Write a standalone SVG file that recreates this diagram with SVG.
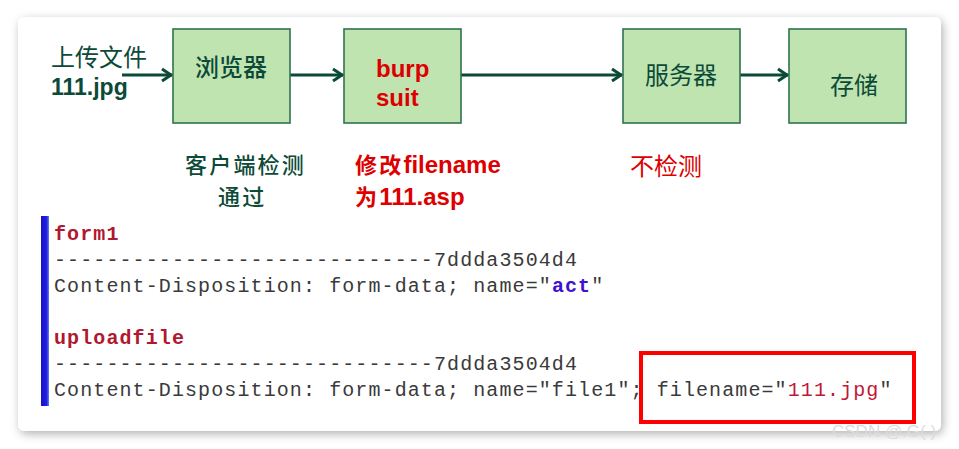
<svg xmlns="http://www.w3.org/2000/svg" width="959" height="449" viewBox="0 0 959 449">
<style>
.box{fill:#c0e4b0;stroke:#2f7352;stroke-width:1.6}
.cjk{font-family:"Noto Sans CJK SC","Noto Sans",sans-serif;font-size:24px}
.cjs{font-family:"Noto Sans CJK SC","Noto Sans",sans-serif;font-size:22px;letter-spacing:2.2px}
.g{fill:#0c4a38}
.r{fill:#dd0000}
.lat{font-family:"Liberation Sans",Arial,"Noto Sans CJK SC",sans-serif;font-weight:bold;font-size:24px}
.code{font-family:"Liberation Mono","Courier New",monospace;font-size:20px;letter-spacing:1.1px;fill:#3a3a3a}
.kw{fill:#b01830}
.conn{stroke:#0c4a35;stroke-width:3;fill:none}
</style>
<defs>
<filter id="sh" x="-5%" y="-5%" width="110%" height="115%">
<feDropShadow dx="2" dy="3" stdDeviation="5" flood-color="#000" flood-opacity="0.3"/>
</filter>
<marker id="ah" markerUnits="userSpaceOnUse" markerWidth="16" markerHeight="16" viewBox="-14 -8 16 16" refX="0" refY="0" orient="auto">
<path d="M-10,-6 L-1,0 L-10,6" fill="none" stroke="#0c4a35" stroke-width="3"/>
</marker>
<linearGradient id="bar" x1="0" x2="1" y1="0" y2="0">
<stop offset="0" stop-color="#1a10c8"/>
<stop offset="0.7" stop-color="#2020e0"/>
<stop offset="1" stop-color="#6a80f0"/>
</linearGradient>
</defs>
<rect x="0" y="0" width="959" height="449" fill="#ffffff"/>
<rect x="18" y="17" width="923" height="414" rx="6" fill="#ffffff" filter="url(#sh)"/>

<g id="connectors">
<line class="conn" x1="122" y1="75" x2="172" y2="75" marker-end="url(#ah)"/>
<line class="conn" x1="290" y1="75" x2="343" y2="75" marker-end="url(#ah)"/>
<line class="conn" x1="461" y1="75" x2="622" y2="75" marker-end="url(#ah)"/>
<line class="conn" x1="740" y1="75" x2="788" y2="75" marker-end="url(#ah)"/>
</g>

<g id="source">
<text class="g" x="51" y="66"><tspan class="cjk">上传文件</tspan><tspan class="lat" x="51" dy="29" style="font-size:23px">111.jpg</tspan></text>
</g>

<g id="browser">
<rect class="box" x="173" y="29" width="117" height="94"/>
<text class="cjk g" x="195" y="76" style="font-weight:500">浏览器</text>
</g>

<g id="burp">
<rect class="box" x="344" y="29" width="117" height="94"/>
<text class="lat r" x="376" y="77">burp<tspan x="376" dy="29">suit</tspan></text>
</g>

<g id="server">
<rect class="box" x="623" y="29" width="117" height="94"/>
<text class="cjk g" x="645" y="84">服务器</text>
</g>

<g id="storage">
<rect class="box" x="789" y="29" width="117" height="94"/>
<text class="cjk g" x="830" y="94">存储</text>
</g>

<g id="labels">
<text class="cjs g" x="185" y="173" style="font-weight:500">客户端检测<tspan x="218" dy="32">通过</tspan></text>
<text class="r" x="355" y="173"><tspan class="cjs" style="font-weight:bold">修改</tspan><tspan class="lat">filename</tspan><tspan class="cjs" style="font-weight:bold" x="355" dy="32">为</tspan><tspan class="lat">111.asp</tspan></text>
<text class="cjk r" x="630" y="175">不检测</text>
</g>

<g id="code">
<rect x="41" y="216" width="8" height="190" fill="url(#bar)"/>
<text class="code kw" x="54" y="240" style="font-weight:bold">form1</text>
<text class="code" x="54" y="266">-----------------------------7ddda3504d4</text>
<text class="code" x="54" y="292">Content-Disposition: form-data; name="<tspan fill="#4010d0" font-weight="bold">act</tspan>"</text>
<text class="code kw" x="54" y="344" style="font-weight:bold">uploadfile</text>
<text class="code" x="54" y="370">-----------------------------7ddda3504d4</text>
<text class="code" x="54" y="396">Content-Disposition: form-data; name="file1"; filename="<tspan fill="#c01838">111.jpg</tspan>"</text>
<rect x="641" y="353" width="273" height="69" fill="none" stroke="#ff0000" stroke-width="4"/>
</g>

<text x="832" y="437" font-family="Liberation Sans,Arial,sans-serif" font-size="17" fill="#dcdcdc">CSDN @.G( )</text>
</svg>
